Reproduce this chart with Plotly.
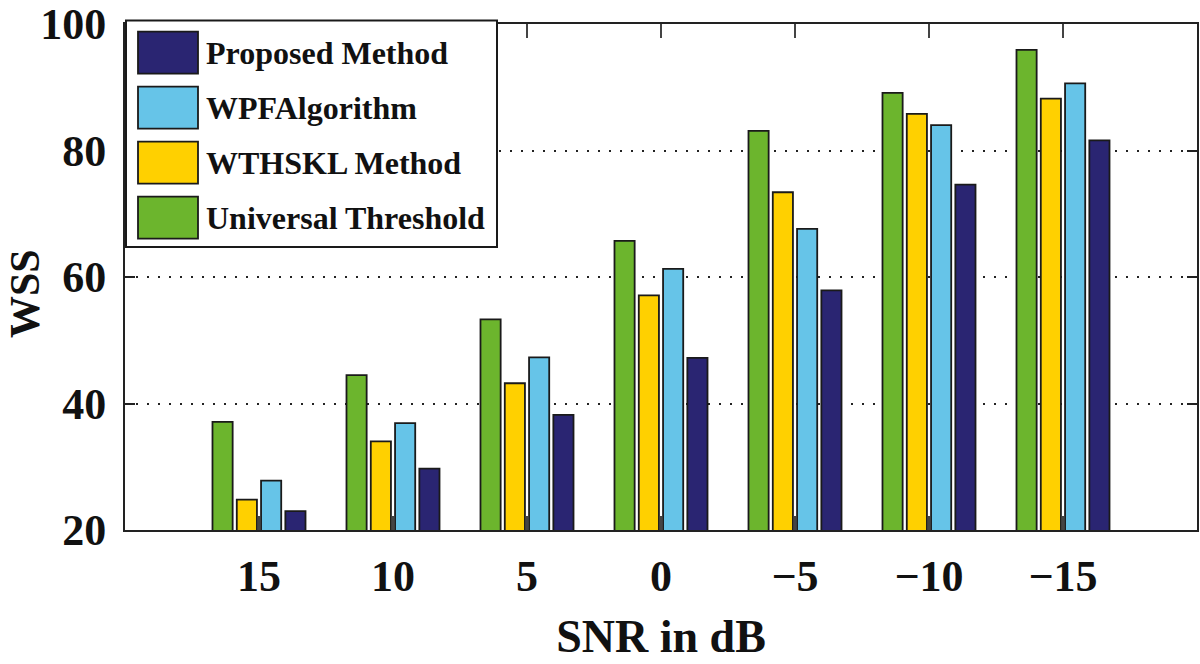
import plotly.graph_objects as go

# ---- data ----
snr_labels = ["15", "10", "5", "0", "\u22125", "\u221210", "\u221215"]
universal_threshold = [37.1, 44.5, 53.3, 65.7, 83.1, 89.1, 95.9]
wthskl_method = [24.8, 34.0, 43.2, 57.1, 73.4, 85.8, 88.2]
wpf_algorithm = [27.8, 36.9, 47.3, 61.3, 67.6, 84.0, 90.6]
proposed_method = [23.0, 29.7, 38.2, 47.2, 57.9, 74.6, 81.6]
y_ticks = [20, 40, 60, 80, 100]

series_names = ["Universal Threshold", "WTHSKL Method", "WPFAlgorithm", "Proposed Method"]
series_values = [universal_threshold, wthskl_method, wpf_algorithm, proposed_method]
series_colors = ["#6CB52D", "#FFD000", "#66C4E8", "#2A2572"]

FONT = "Liberation Serif, Times New Roman, serif"

fig = go.Figure()
for name, vals, col in zip(series_names, series_values, series_colors):
    fig.add_trace(go.Bar(
        x=snr_labels, y=vals, name=name,
        marker=dict(color=col, line=dict(color="#1a1a1a", width=1.8)),
        showlegend=False,
    ))

# plot area pixel geometry
L, R, T, B = 125, 3, 24, 134
W, H = 1200, 664
pw, ph = W - L - R, H - T - B

def px(x):
    return (x - L) / pw

def py(y):
    return (H - B - y) / ph

shapes = []
annotations = []
# custom legend box
shapes.append(dict(type="rect", xref="paper", yref="paper",
                   x0=px(126), x1=px(497), y0=py(247), y1=py(20.5),
                   line=dict(color="#1a1a1a", width=2), fillcolor="white", layer="above"))
legend_order = list(range(len(series_names)))[::-1]
for i, idx in enumerate(legend_order):
    top = 31.7 + 55 * i
    shapes.append(dict(type="rect", xref="paper", yref="paper",
                       x0=px(138), x1=px(198), y0=py(top + 42), y1=py(top),
                       line=dict(color="#1a1a1a", width=1.8),
                       fillcolor=series_colors[idx], layer="above"))
    annotations.append(dict(text=series_names[idx], xref="paper", yref="paper",
                            x=px(204), y=py(top + 21), xanchor="left", yanchor="middle",
                            showarrow=False,
                            font=dict(family=FONT, size=32, color="#111", weight="bold")))

# y-axis title
annotations.append(dict(text="WSS", xref="paper", yref="paper",
                        x=px(25), y=py(294), xanchor="center", yanchor="middle",
                        textangle=-90, showarrow=False,
                        font=dict(family=FONT, size=42, color="#111", weight="bold")))

fig.update_layout(
    width=W, height=H,
    margin=dict(l=L, r=R, t=T, b=B, autoexpand=False),
    paper_bgcolor="white", plot_bgcolor="white",
    barmode="group", bargap=0.275, bargroupgap=0.17,
    shapes=shapes, annotations=annotations,
    font=dict(family=FONT, color="#111"),
)
fig.update_xaxes(
    type="category", range=[-1, len(snr_labels)], automargin=False,
    showline=True, linecolor="#222", linewidth=2, mirror="ticks",
    ticks="inside", ticklen=14, tickwidth=2, tickcolor="#444",
    showgrid=False,
    tickfont=dict(family=FONT, size=44, color="#111", weight="bold"),
    ticklabelstandoff=6,
    title=dict(text="SNR in dB", standoff=20,
               font=dict(family=FONT, size=46, color="#111", weight="bold")),
)
fig.update_yaxes(
    range=[20, 100], tickvals=y_ticks, automargin=False,
    showline=True, linecolor="#222", linewidth=2, mirror="ticks",
    ticks="inside", ticklen=10, tickwidth=2, tickcolor="#222",
    showgrid=True, gridcolor="#222", gridwidth=2, griddash="2px,9px",
    zeroline=False,
    tickfont=dict(family=FONT, size=44, color="#111", weight="bold"),
    ticklabelstandoff=8,
)

fig.write_html("out.html", config={"displayModeBar": False},
               post_script="document.body.style.margin='0';")
